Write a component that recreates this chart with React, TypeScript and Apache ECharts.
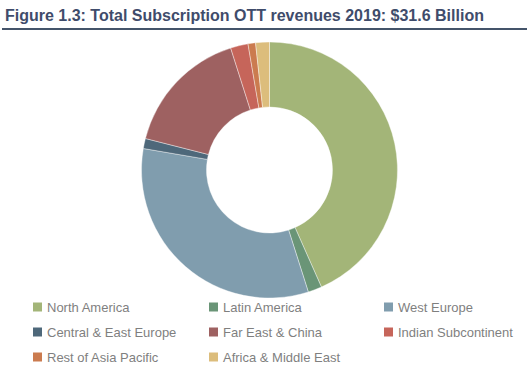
import React, { useEffect, useRef } from "react";
import * as echarts from "echarts";

const categories = [
  "North America",
  "Latin America",
  "West Europe",
  "Central & East Europe",
  "Far East & China",
  "Indian Subcontinent",
  "Rest of Asia Pacific",
  "Africa & Middle East",
];
const revenues = [13.7, 0.55, 10.3, 0.4, 5.1, 0.7, 0.3, 0.55];
const colors = ["#A3B578", "#6A9577", "#809DAE", "#4E687A", "#9E6161", "#C6655A", "#CB7B4F", "#DCBD7C"];
const legendCol1 = ["North America", "Central & East Europe", "Rest of Asia Pacific"];
const legendCol2 = ["Latin America", "Far East & China", "Africa & Middle East"];
const legendCol3 = ["West Europe", "Indian Subcontinent"];
const titleText = "Figure 1.3: Total Subscription OTT revenues 2019: $31.6 Billion";

export default function App() {
  const ref = useRef<HTMLDivElement>(null);
  useEffect(() => {
    if (!ref.current) return;
    const chart = echarts.init(ref.current, undefined, { renderer: "svg" });
    const legendBase = {
      orient: "vertical",
      top: 300,
      itemWidth: 11,
      itemHeight: 11,
      itemGap: 11,
      icon: "rect",
      selectedMode: false,
      textStyle: { color: "#7F7F7F", fontSize: 13, fontFamily: "Liberation Sans, Arial, sans-serif", lineHeight: 14, padding: [0, 0, 0, -1] },
      padding: 0,
    };
    chart.setOption({
      animation: false,
      color: colors,
      title: {
        text: titleText,
        left: 5,
        top: 7,
        padding: 0,
        textStyle: { color: "#3F4C6B", fontSize: 16, fontWeight: "bold", fontFamily: "Liberation Sans, Arial, sans-serif" },
      },
      graphic: [
        { type: "rect", shape: { x: 2, y: 28, width: 525, height: 2 }, style: { fill: "#44546A" } },
      ],
      legend: [
        { ...legendBase, left: 31, data: legendCol1 },
        { ...legendBase, left: 207, data: legendCol2 },
        { ...legendBase, left: 382, data: legendCol3 },
      ],
      series: [
        {
          type: "pie",
          center: [269.5, 170],
          radius: [63, 128],
          startAngle: 90,
          clockwise: true,
          label: { show: false },
          labelLine: { show: false },
          silent: true,
          itemStyle: { borderColor: "#ffffff", borderWidth: 0.4 },
          data: categories.map((name, i) => ({ name, value: revenues[i] })),
        },
      ],
    });
    return () => chart.dispose();
  }, []);
  return <div ref={ref} style={{ position: "absolute", left: 0, top: 0, width: 527, height: 375 }} />;
}
